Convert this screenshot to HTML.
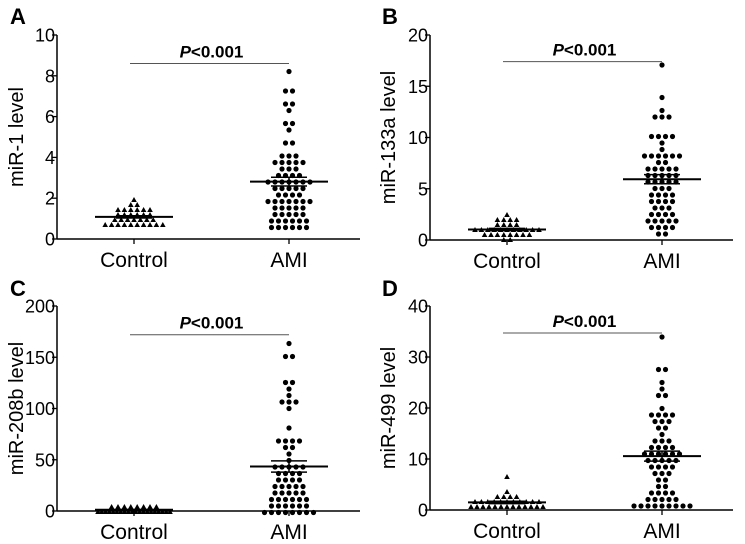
<!DOCTYPE html>
<html><head><meta charset="utf-8"><style>
html,body{margin:0;padding:0;background:#fff;}
svg{display:block;font-family:"Liberation Sans",Arial,sans-serif;}
</style></head><body>
<svg id="fig" width="745" height="544" viewBox="0 0 745 544" xmlns="http://www.w3.org/2000/svg"></svg>
<script>
const categories = ["Control","AMI"];
const panelLetters = ["A","B","C","D"];
const yTitles = ["miR-1 level","miR-133a level","miR-208b level","miR-499 level"];
const yMax = [10,20,200,40];
const yTicksA = [0,2,4,6,8,10];
const yTicksB = [0,5,10,15,20];
const yTicksC = [0,50,100,150,200];
const yTicksD = [0,10,20,30,40];
const pLabel = "P<0.001";
const sigLevel = [8.6,17.4,172,34.7];

const ctrlA = [1.8,1.7,1.6,1.5,1.5,1.5,1.4,1.3,1.3,1.2,1.2,1.2,1.1,1.1,1.1,1.0,1.0,1.0,1.0,0.95,0.9,0.9,0.8,0.8,0.8,0.8,0.8,0.7,0.7,0.7,0.7,0.7];
const amiA = [8.3,7.1,7.1,6.6,6.6,6.3,5.8,5.6,5.4,4.6,4.6,4.2,4.1,4.0,3.9,3.9,3.9,3.7,3.7,3.5,3.5,3.4,3.2,3.1,3.1,3.0,2.9,2.9,2.9,2.8,2.8,2.8,2.8,2.6,2.6,2.6,2.5,2.5,2.3,2.3,2.1,2.1,1.9,1.9,1.9,1.9,1.9,1.8,1.8,1.6,1.6,1.6,1.6,1.5,1.3,1.3,1.3,1.1,1.1,0.9,0.85,0.85,0.85,0.85,0.85,0.6,0.6,0.6,0.6,0.6,0.6];
const ctrlB = [2.3,2.1,2.0,1.9,1.8,1.6,1.5,1.4,1.3,1.2,1.1,1.1,1.0,1.0,1.0,0.9,0.9,0.9,0.8,0.8,0.7,0.6,0.6,0.5,0.5,0.4,0.3,0.3,0.2,0.2];
const amiB = [17,14,12.4,12.3,12,11.8,10.3,10.2,10.1,9.8,9.7,8.7,8.4,8.4,8.3,8.2,7.9,7.9,7.7,7.6,7.2,7.1,7,6.9,6.7,6.6,6.5,6.4,6.3,6,5.9,5.8,5.7,5.5,5.4,5.3,5,4.8,4.7,4.4,4.3,4.2,3.8,3.6,3.5,3.5,3.4,3.1,3,2.8,2.6,2.3,2.2,2.1,2,1.9,1.7,1.6,1.3,1.2,1.1,1.2,0.7,0.6];
const ctrlC = [3,2.5,2.2,2,2,1.8,1.6,1.5,1.4,1.3,1.2,1.1,1,1,1,0.9,0.9,0.8,0.8,0.7,0.7,0.6,0.6,0.5,0.5,0.4,0.3,0.3];
const amiC = [163,153,148,126,124,119,112,105,104,104,103,83,70,68,67,66,65,60,55,47,46,45,42,41,40,38,37,36,34,33,32,30,28,27,26,25,22,21,19,18,18,17,16,14,12,11,10,10,9,7,6,5,4,2,2,1.5,1.5,1,1,1,0.8,0.8,0.5];
const ctrlD = [6.8,3.8,2.5,2.4,2.3,2.2,2.0,1.9,1.8,1.7,1.6,1.5,1.5,1.4,1.3,1.2,1.1,1.0,1.0,0.9,0.8,0.7,0.6,0.5,0.5,0.4,0.4,0.3,0.3,0.3];
const amiD = [33.5,28,27,24.5,24.3,23,22,20.3,19,18.4,18.3,18.1,17.5,17,16.8,16.5,16.3,15,14,13.8,13.5,12.5,12.2,12,11.8,11.5,11.3,11.1,11,10.8,10.5,10.2,10,9.8,9.6,9.5,9,8.5,8.2,7.8,7.2,7,6.8,6.5,6,5,4,3.8,3.5,3.2,3,2.5,2.2,2,1.8,1.5,1.2,1,0.8,0.6,0.5,0.4,0.3,0.5,0.8];

const ticksAll = [yTicksA,yTicksB,yTicksC,yTicksD];
const ctrlAll = [ctrlA,ctrlB,ctrlC,ctrlD];
const amiAll = [amiA,amiB,amiC,amiD];

const NS = "http://www.w3.org/2000/svg";
const svg = document.getElementById("fig");
function mk(tag, attrs, parent){
  const e = document.createElementNS(NS, tag);
  for (const k in attrs) e.setAttribute(k, attrs[k]);
  (parent||svg).appendChild(e);
  return e;
}
const layout = [
  {ox:0, oy:0, ax:57, y0:239, yT:35},
  {ox:372, oy:0, ax:58, y0:240, yT:35},
  {ox:0, oy:272, ax:57, y0:239, yT:34},
  {ox:372, oy:272, ax:58, y0:238, yT:34}
];
function swarm(vals, cx, yf, sp, step, maxHalf){
  const sorted = vals.slice().sort((a,b)=>b-a);
  const rows = {};
  sorted.forEach(v=>{
    const key = Math.round(yf(v)/step);
    (rows[key] = rows[key] || []).push(v);
  });
  const out = [];
  Object.keys(rows).forEach(k=>{
    const r = rows[k];
    const n = r.length;
    let s = sp;
    if ((n-1)*s/2 > maxHalf) s = 2*maxHalf/(n-1);
    const y = k*step;
    r.forEach((v,idx)=>{
      out.push([cx + (idx-(n-1)/2)*s, y, v]);
    });
  });
  return out;
}
function stats(a){const m=a.reduce((s,v)=>s+v,0)/a.length;const sd=Math.sqrt(a.reduce((s,v)=>s+(v-m)*(v-m),0)/(a.length-1));return [m,sd/Math.sqrt(a.length)];}

layout.forEach((L,i)=>{
  const g = mk("g",{transform:`translate(${L.ox},${L.oy})`});
  
  
  const yf = v => L.y0 - (v/yMax[i])*(L.y0-L.yT);
  const cX = [L.ax+77, L.ax+232];
  const t = mk("text",{x:10,y:24,"font-size":22,"font-weight":"bold"},g); t.textContent = panelLetters[i];
  
  
  const ya = mk("line",{x1:L.ax,y1:L.yT,x2:L.ax,y2:L.y0,stroke:"#000","stroke-width":1.5},g);
  
  
  const xa = mk("line",{x1:L.ax,y1:L.y0,x2:L.ax+303,y2:L.y0,stroke:"#000","stroke-width":1.5},g);
  
  
  ticksAll[i].forEach(tv=>{
    const y = yf(tv);
    mk("line",{x1:L.ax-5,y1:y,x2:L.ax,y2:y,stroke:"#000","stroke-width":1.3},g);
    const tl = mk("text",{x:L.ax-2,y:y+6.5,"font-size":18,"text-anchor":"end"},g); tl.textContent = tv;
    
    
  });
  const yt = mk("text",{transform:`translate(23,${(L.y0+L.yT)/2}) rotate(-90)`,"font-size":20,"text-anchor":"middle"},g);
  yt.textContent = yTitles[i];
  
  
  categories.forEach((c,j)=>{
    mk("line",{x1:cX[j],y1:L.y0,x2:cX[j],y2:L.y0+5,stroke:"#000","stroke-width":1.3},g);
    const cl = mk("text",{x:cX[j],y:L.y0+28,"font-size":21,"text-anchor":"middle"},g); cl.textContent = c;
    
    
  });
  const sy = yf(sigLevel[i]);
  const sl = mk("line",{x1:cX[0]-4,y1:sy,x2:cX[1],y2:sy,stroke:"#555","stroke-width":1},g);
  
  
  const pt = mk("text",{x:(cX[0]+cX[1])/2,y:sy-6,"font-size":17,"font-weight":"bold","text-anchor":"middle"},g);
  pt.innerHTML = '<tspan font-style="italic">P</tspan>&lt;0.001';
  
  
  swarm(ctrlAll[i], cX[0], yf, 6.4, 5, 36).forEach(p=>{
    const tri = mk("polygon",{points:`${p[0]},${p[1]-3} ${p[0]-2.8},${p[1]+2} ${p[0]+2.8},${p[1]+2}`,fill:"#000"},g);
    
    
  });
  swarm(amiAll[i], cX[1], yf, 7, 6.5, 33).forEach(p=>{
    const c = mk("circle",{cx:p[0],cy:p[1],r:2.6,fill:"#000"},g);
    
    
  });
  [ctrlAll[i],amiAll[i]].forEach((arr,j)=>{
    const [m,se] = stats(arr);
    const cx = cX[j];
    const ml = mk("line",{x1:cx-39,y1:yf(m),x2:cx+39,y2:yf(m),stroke:"#000","stroke-width":2},g);
    
    
    mk("line",{x1:cx-18,y1:yf(m+se),x2:cx+18,y2:yf(m+se),stroke:"#000","stroke-width":1.5},g);
    mk("line",{x1:cx-18,y1:yf(m-se),x2:cx+18,y2:yf(m-se),stroke:"#000","stroke-width":1.5},g);
    mk("line",{x1:cx,y1:yf(m+se),x2:cx,y2:yf(m-se),stroke:"#000","stroke-width":1.5},g);
  });
});
</script>
</body></html>
